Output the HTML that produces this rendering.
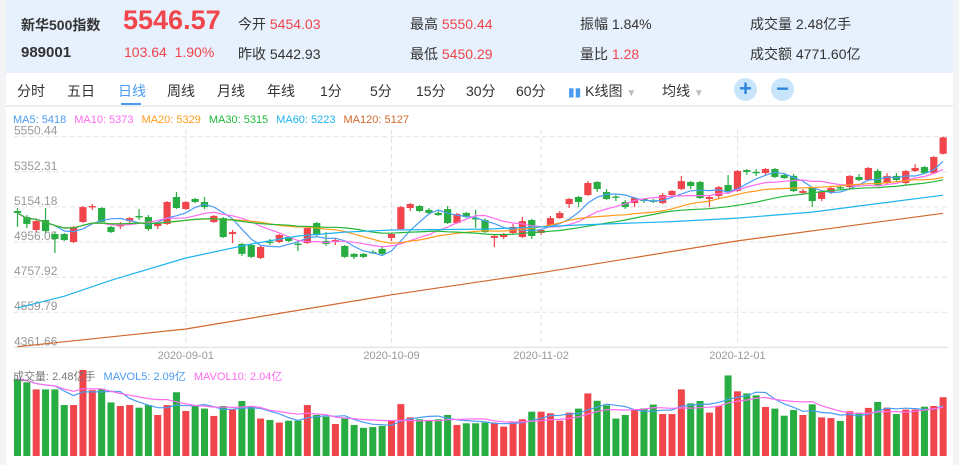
<!DOCTYPE html>
<html><head><meta charset="utf-8">
<style>
*{margin:0;padding:0;box-sizing:border-box}
body{width:959px;height:465px;background:#f3f4f6;font-family:"Liberation Sans","Noto Sans CJK SC",sans-serif;position:relative;overflow:hidden}
#panel{position:absolute;left:6px;top:0;width:947px;height:465px;background:#fff}
#hdr{position:absolute;left:6px;top:0;width:947px;height:73px;background:#e7f0fd}
.t{position:absolute;font-size:14px;color:#333;white-space:nowrap}
.r{color:#f0454b}
#tb{position:absolute;left:6px;top:73px;width:947px;height:34px;background:#fff;border-bottom:2px solid #eceef1}
.tab{position:absolute;top:8px;font-size:14px;color:#333;white-space:nowrap}
svg{position:absolute;left:0;top:0}
</style></head><body>
<div id="panel"></div>
<div id="hdr"></div>
<div class="t" style="left:21px;top:15px;font-weight:bold">新华500指数</div>
<div class="t" style="left:21px;top:44px;font-weight:bold;font-size:15px">989001</div>
<div class="t r" style="left:123px;top:5px;font-size:27px;font-weight:bold">5546.57</div>
<div class="t r" style="left:124px;top:44px">103.64&nbsp;&nbsp;1.90%</div>
<div class="t" style="left:238px;top:14px">今开 <span class="r">5454.03</span></div>
<div class="t" style="left:238px;top:44px">昨收 5442.93</div>
<div class="t" style="left:410px;top:14px">最高 <span class="r">5550.44</span></div>
<div class="t" style="left:410px;top:44px">最低 <span class="r">5450.29</span></div>
<div class="t" style="left:580px;top:14px">振幅 1.84%</div>
<div class="t" style="left:580px;top:44px">量比 <span class="r">1.28</span></div>
<div class="t" style="left:750px;top:14px">成交量 2.48亿手</div>
<div class="t" style="left:750px;top:44px">成交额 4771.60亿</div>
<div id="tb"></div>
<div class="tab" style="left:17px;top:81px">分时</div>
<div class="tab" style="left:67px;top:81px">五日</div>
<div class="tab" style="left:118px;top:81px;color:#4a9af0">日线</div>
<div style="position:absolute;left:121px;top:103px;width:20px;height:2px;background:#4a9af0"></div>
<div class="tab" style="left:167px;top:81px">周线</div>
<div class="tab" style="left:217px;top:81px">月线</div>
<div class="tab" style="left:267px;top:81px">年线</div>
<div class="tab" style="left:320px;top:81px">1分</div>
<div class="tab" style="left:370px;top:81px">5分</div>
<div class="tab" style="left:416px;top:81px">15分</div>
<div class="tab" style="left:466px;top:81px">30分</div>
<div class="tab" style="left:516px;top:81px">60分</div>
<div class="tab" style="left:568px;top:81px"><span style="color:#4a9af0;font-size:12px">▮▮</span> K线图 <span style="color:#bbb;font-size:10px">▼</span></div>
<div class="tab" style="left:662px;top:81px">均线 <span style="color:#bbb;font-size:10px">▼</span></div>
<div style="position:absolute;left:734px;top:78px;width:23px;height:23px;border-radius:50%;background:#c9e5fb;color:#2e86de;font-size:22px;line-height:22px;text-align:center;font-weight:bold">+</div>
<div style="position:absolute;left:771px;top:78px;width:23px;height:23px;border-radius:50%;background:#c9e5fb;color:#2e86de;font-size:22px;line-height:21px;text-align:center;font-weight:bold">−</div>

<svg id="chart" width="959" height="465"></svg>
<script>
const opens=[5131,5097,5024,5080,5001,5001,4956,5069,5153,5148,5041,5046,5074,5103,5097,5046,5058,5210,5142,5199,5182,5069,5091,5001,4945,4939,4866,4959,4956,4984,4947,4950,5063,4962,4956,4934,4889,4889,4900,4917,4979,5029,5148,5159,5137,5120,5142,5063,5120,5091,5080,4979,4984,5007,4984,5080,5007,5052,5091,5170,5210,5221,5295,5238,5213,5182,5176,5199,5190,5176,5221,5255,5295,5295,5199,5216,5278,5244,5362,5352,5345,5368,5334,5329,5233,5261,5199,5238,5266,5266,5323,5306,5357,5289,5329,5289,5357,5379,5345,5454.03];
const closes=[5120,5058,5074,5018,4973,4967,5041,5153,5159,5069,5012,5052,5091,5097,5029,5063,5182,5148,5182,5182,5153,5103,4984,5012,4889,4872,4928,4956,4996,4962,4945,5035,4996,4945,4967,4872,4872,4872,4894,4889,5001,5153,5170,5131,5120,5108,5063,5114,5097,5086,5012,4990,5001,5041,5074,4990,5024,5091,5120,5199,5182,5289,5255,5199,5210,5153,5204,5187,5187,5221,5244,5300,5272,5204,5210,5266,5238,5357,5351,5350,5368,5323,5317,5244,5244,5187,5238,5261,5261,5329,5306,5374,5278,5329,5306,5357,5374,5345,5436,5546.57];
const highs=[5148,5108,5086,5148,5012,5007,5046,5159,5170,5153,5046,5069,5097,5142,5108,5069,5187,5238,5187,5204,5210,5108,5097,5024,4950,4945,4934,4973,5001,4990,4962,5041,5069,5012,4979,4939,4894,4894,4911,4934,5007,5159,5176,5165,5148,5131,5159,5120,5125,5137,5091,4996,5007,5058,5097,5086,5029,5103,5131,5204,5216,5300,5300,5255,5221,5193,5210,5204,5199,5233,5249,5329,5300,5300,5216,5272,5334,5362,5368,5368,5374,5374,5345,5340,5255,5266,5244,5266,5272,5334,5340,5379,5368,5345,5345,5362,5396,5385,5441,5550.44];
const lows=[5041,5035,5012,5007,4894,4962,4950,5063,5137,5063,5007,5029,5063,5080,5018,5029,5052,5142,5137,5176,5142,5063,4979,4950,4877,4866,4860,4939,4950,4956,4905,4945,4990,4934,4939,4866,4860,4866,4889,4877,4962,5024,5131,5125,5108,5103,5058,5058,5091,5035,5007,4928,4973,5001,4979,4973,4996,5046,5086,5148,5153,5216,5238,5193,5187,5142,5153,5176,5176,5170,5216,5249,5255,5199,5153,5204,5227,5238,5334,5329,5334,5317,5312,5238,5227,5153,5187,5227,5249,5255,5300,5300,5272,5278,5295,5278,5351,5340,5340,5450.29];
const volumes=[3.25,3.11,2.81,2.81,2.81,2.15,2.15,3.63,2.78,2.81,2.26,2.11,2.15,2.04,2.15,1.73,2.15,2.69,1.90,2.12,2.00,1.69,2.11,1.96,2.32,2.08,1.58,1.52,1.41,1.49,1.49,2.15,1.73,1.66,1.35,1.62,1.31,1.19,1.22,1.27,1.49,2.19,1.63,1.55,1.49,1.55,1.73,1.31,1.38,1.38,1.41,1.41,1.24,1.43,1.55,1.87,1.87,1.80,1.49,1.83,2.00,2.64,2.33,2.14,1.58,1.73,1.98,2.01,2.17,1.77,1.77,2.81,2.22,2.32,1.83,2.12,3.40,2.73,2.64,2.56,2.07,2.00,1.70,1.94,1.73,2.18,1.63,1.60,1.48,1.89,1.83,2.03,2.28,2.04,1.77,1.96,1.96,2.08,2.11,2.48];
const ma60Idx=[0,5,10,18,25,30,35,40,50,56,60,70,77,85,90,99];
const ma60Val=[4584,4650,4740,4866,4945,4990,5012,5024,5029,5041,5052,5071,5091,5125,5159,5220];
const ma120Idx=[0,18,40,56,77,99];
const ma120Val=[4365,4465,4658,4783,4962,5118];
const yTicks=[5550.44,5352.31,5154.18,4956.05,4757.92,4559.79,4361.66];
const dateLabels=["2020-09-01","2020-10-09","2020-11-02","2020-12-01"];
const dateIdx=[18,40,56,77];

const NS="http://www.w3.org/2000/svg";
const svg=document.getElementById('chart');
const X=i=>17.5+i*9.35;
const Y=v=>347.3-(v-4361.66)*0.17716;
const VY=v=>456-v*23.7;
const RED="#f0454b",GREEN="#27ad41";
function mk(tag,a){const e=document.createElementNS(NS,tag);for(const k in a)e.setAttribute(k,a[k]);svg.appendChild(e);return e;}
yTicks.forEach((v,k)=>{
  const y=Y(v);
  const g=mk('line',{x1:14,x2:948,y1:y,y2:y,stroke:k===6?'#dcdcdc':'#e2e2e2','stroke-dasharray':k===6?'':'5,3'});
  
  
  const t=mk('text',{x:14,y:y-2,'font-size':12,fill:'#999','font-family':'Liberation Sans'});
  t.textContent=v.toFixed(2);
  
  
});
dateLabels.forEach((d,k)=>{
  const x=X(dateIdx[k]);
  const g=mk('line',{x1:x,x2:x,y1:130,y2:347,stroke:'#e2e2e2','stroke-dasharray':'5,3'});
  
  
  const t=mk('text',{x:x,y:359,'font-size':11,fill:'#999','text-anchor':'middle','font-family':'Liberation Sans'});
  t.textContent=d;
  
  
});
const leg=[["MA5: 5418","#4a9cf5"],["MA10: 5373","#ff6cf0"],["MA20: 5329","#ff9a1a"],["MA30: 5315","#22b83a"],["MA60: 5223","#1eb4f0"],["MA120: 5127","#d2692c"]];
let lx=13;
leg.forEach(l=>{const t=mk('text',{x:lx,y:123,'font-size':11,fill:l[1],'font-family':'Liberation Sans'});t.textContent=l[0];
  
  
  lx+=t.getComputedTextLength()+8;});
closes.forEach((c,i)=>{
  const o=opens[i],up=c>=o,col=up?RED:GREEN,x=X(i);
  const w=mk('line',{x1:x,x2:x,y1:Y(highs[i]),y2:Y(lows[i]),stroke:col,'stroke-width':1.2});
  
  
  const top=Y(Math.max(o,c)),h=Math.max(1.4,Y(Math.min(o,c))-top);
  const b=mk('rect',{x:x-3.6,y:top,width:7.2,height:h,fill:col});
  
  
  const vb=mk('rect',{x:x-3.5,y:VY(volumes[i]),width:7,height:volumes[i]*23.7,fill:col});
  
  
});
function ma(arr,n,i){let s=0,c=0;for(let k=Math.max(0,i-n+1);k<=i;k++){s+=arr[k];c++;}return s/c;}
function line(pts,col,name){const p=mk('polyline',{points:pts.map(q=>q[0].toFixed(1)+','+q[1].toFixed(1)).join(' '),fill:'none',stroke:col,'stroke-width':1.2});
  
  }
[[5,"#4a9cf5","ma5-line"],[10,"#ff6cf0","ma10-line"],[20,"#ff9a1a","ma20-line"],[30,"#22b83a","ma30-line"]].forEach(m=>{
  line(closes.map((_,i)=>[X(i),Y(ma(closes,m[0],i))]),m[1],m[2]);
});
line(ma60Idx.map((ix,k)=>[X(ix),Y(ma60Val[k])]),"#1eb4f0","ma60-line");
line(ma120Idx.map((ix,k)=>[X(ix),Y(ma120Val[k])]),"#d2692c","ma120-line");
line(volumes.map((_,i)=>[X(i),VY(ma(volumes,5,i))]),"#4a9cf5","mavol5-line");
line(volumes.map((_,i)=>[X(i),VY(ma(volumes,10,i))]),"#ff6cf0","mavol10-line");
const vl=[["成交量: 2.48亿手","#777"],["MAVOL5: 2.09亿","#4a9cf5"],["MAVOL10: 2.04亿","#ff6cf0"]];
let vx=13;
vl.forEach(l=>{const t=mk('text',{x:vx,y:380,'font-size':11,fill:l[1],'font-family':'Liberation Sans, Noto Sans CJK SC, sans-serif'});t.textContent=l[0];
  
  
  vx+=t.getComputedTextLength()+8;});
</script>
</body></html>
